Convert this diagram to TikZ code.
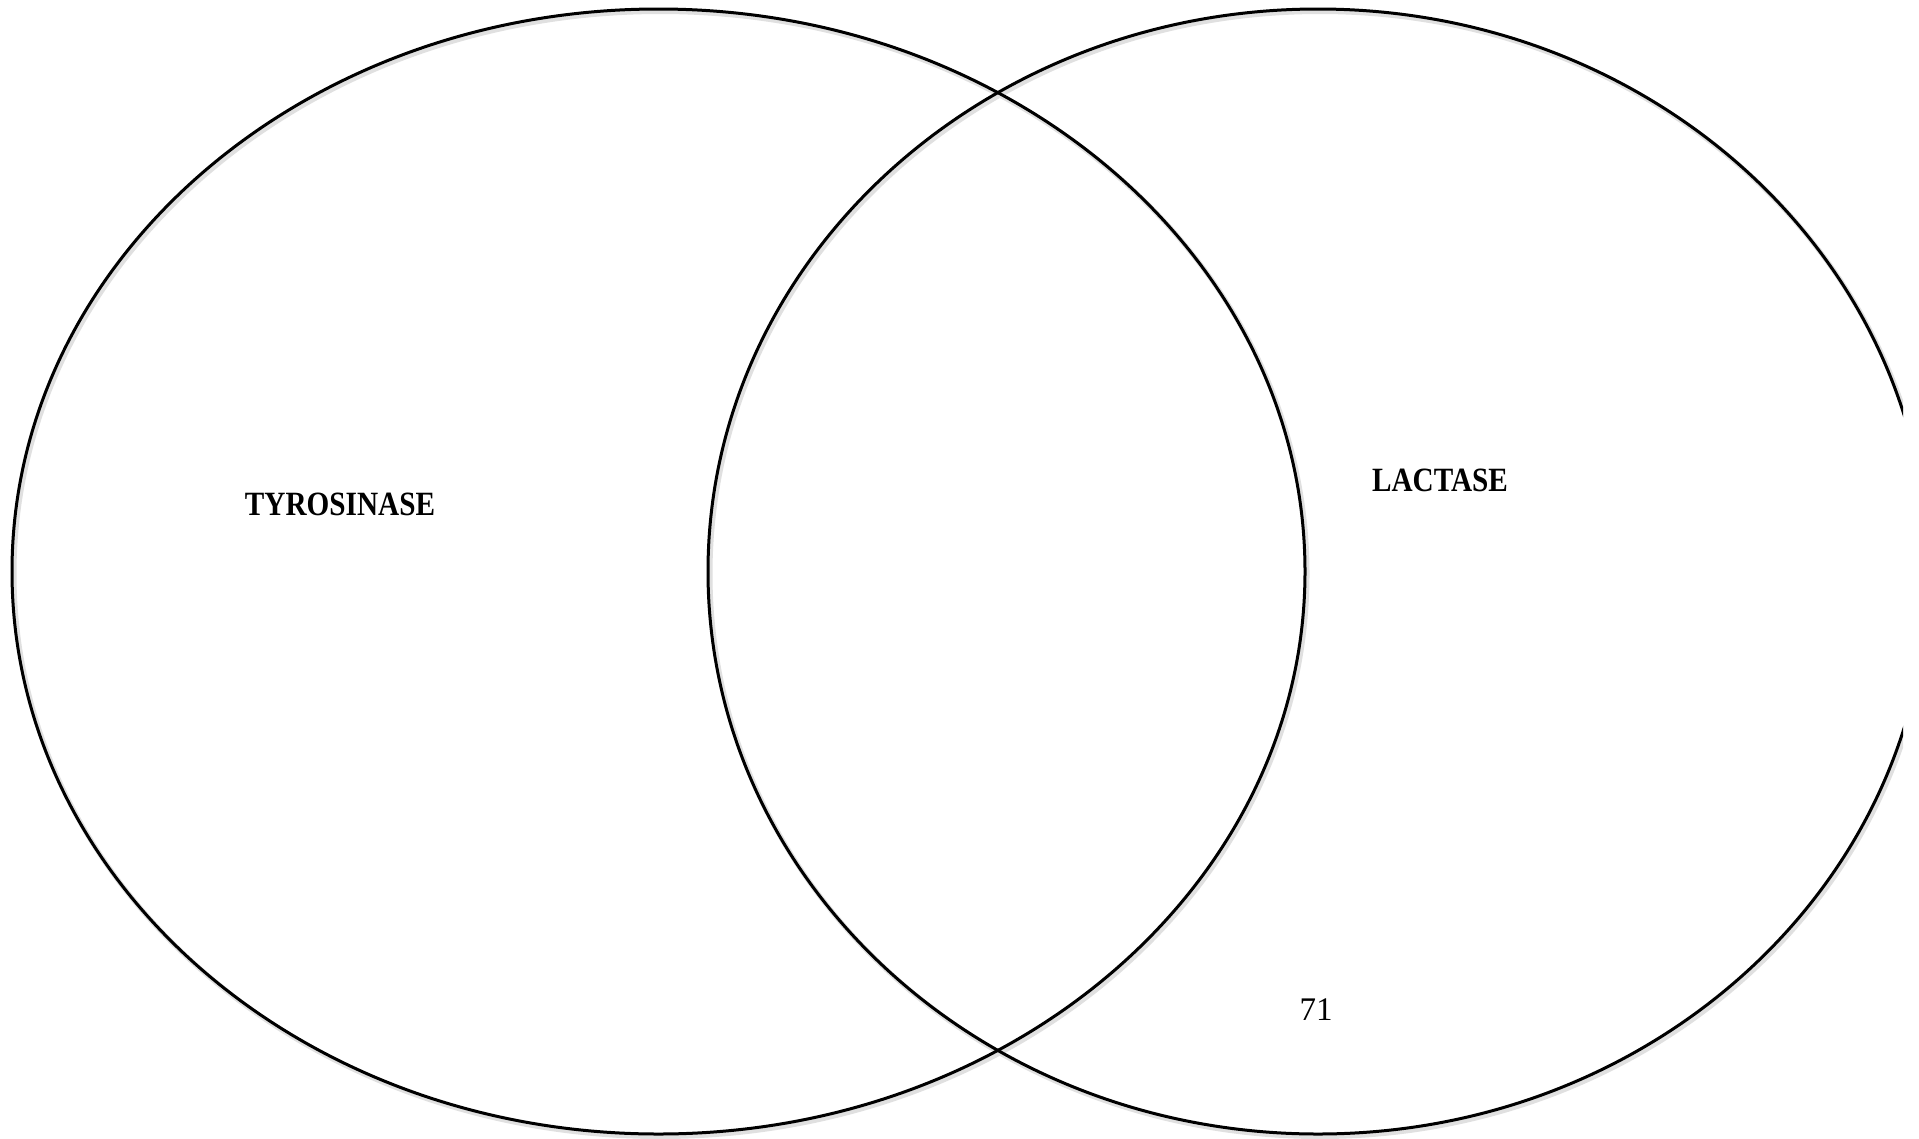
\documentclass[tikz,border=0pt]{standalone}
\usepackage{fontspec}
\setmainfont{Liberation Serif}
\newfontfamily\labfont[FakeStretch=0.86]{Liberation Serif}
\tikzset{
  ring/.style={draw=black, line width=3pt},
  ringshadow/.style={draw=black!12, line width=5pt},
  title/.style={font=\labfont\fontsize{34}{36}\selectfont\bfseries, inner sep=0pt},
  pagenum/.style={font=\fontsize{33}{36}\selectfont, inner sep=0pt}
}
\begin{document}
\begin{tikzpicture}[x=1pt,y=-1pt]
\useasboundingbox (0,0) rectangle (1919,1138);
\fill[white] (0,0) rectangle (1919,1138);
\begin{scope}
\clip (0,0) rectangle (1903,1138);
\draw[ringshadow] (660.5,574) ellipse [x radius=646.5, y radius=562.5];
\draw[ringshadow] (1320,574) ellipse [x radius=610, y radius=562.5];
\draw[ring] (658.5,571.5) ellipse [x radius=646.5, y radius=562.5];
\draw[ring] (1318,571.5) ellipse [x radius=610, y radius=562.5];
\end{scope}
\node[title] (tyr) at (340,504) {TYROSINASE};
\node[title] (lac) at (1440,480) {LACTASE};
\node[pagenum] (pg) at (1316,1010) {71};
\end{tikzpicture}
\end{document}
